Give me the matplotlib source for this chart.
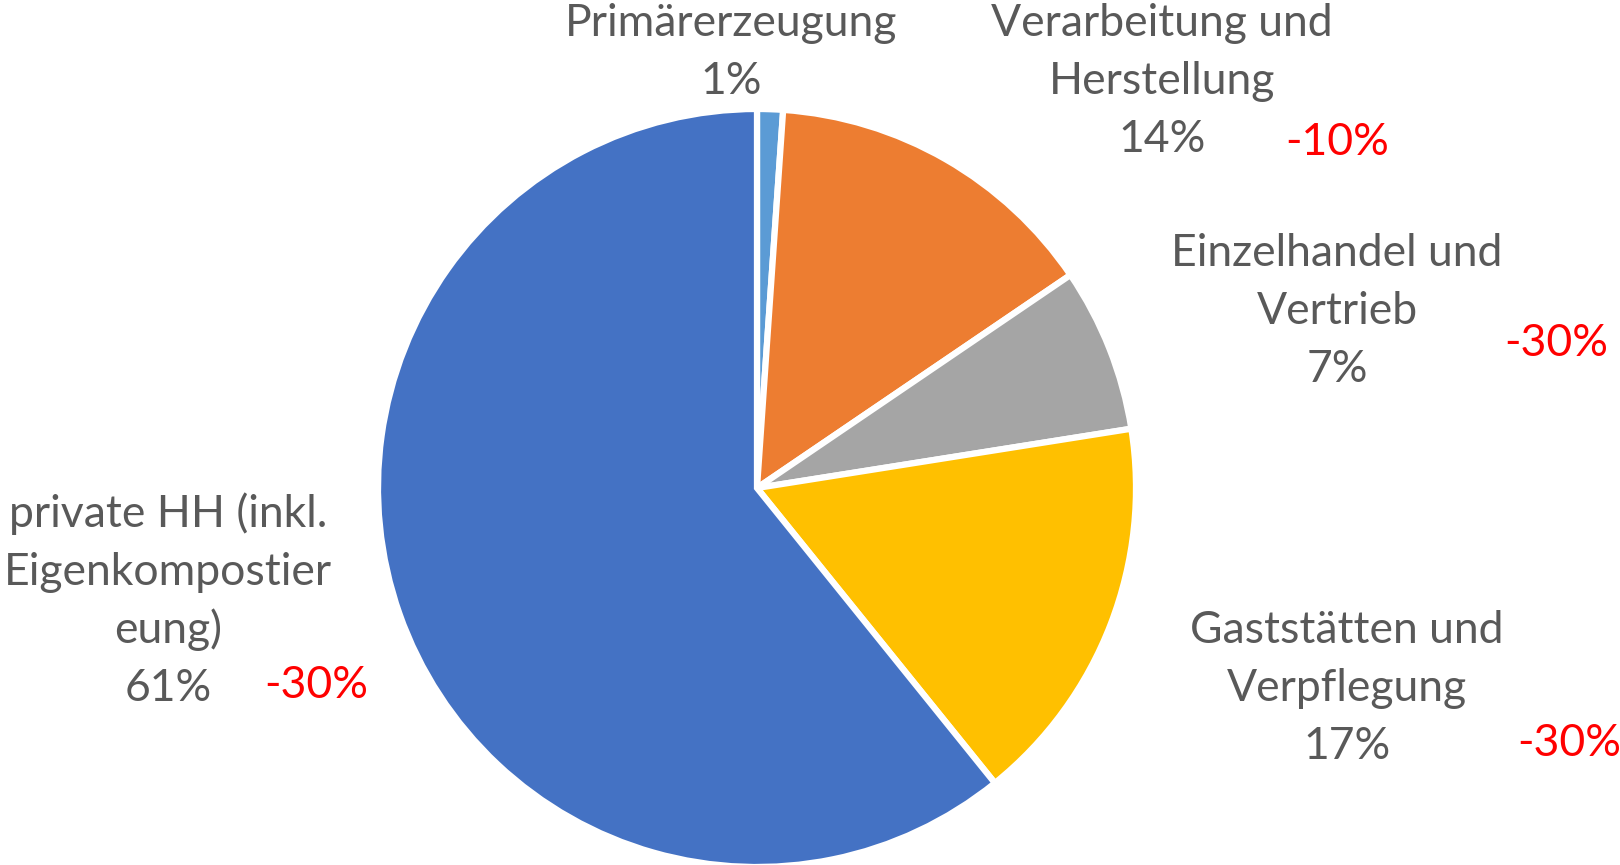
import matplotlib
matplotlib.use("Agg")
import matplotlib.pyplot as plt

# data (shares in %)
categories = ["Primärerzeugung",
              "Verarbeitung und\nHerstellung",
              "Einzelhandel und\nVertrieb",
              "Gaststätten und\nVerpflegung",
              "private HH (inkl.\nEigenkompostier\neung)"]
shares = [1.1, 14.4, 7.0, 16.7, 60.8]
targets = ["", "-10%", "-30%", "-30%", "-30%"]
colors = ["#5B9BD5", "#ED7D31", "#A5A5A5", "#FFC000", "#4472C4"]

W, H = 1620, 865
plt.rcParams['font.family'] = ['Lato', 'DejaVu Sans']
fig = plt.figure(figsize=(W / 100, H / 100), dpi=100)

cx, cy, r = 757, 488, 379
ax = fig.add_axes([(cx - r) / W, (H - cy - r) / H, 2 * r / W, 2 * r / H])
ax.pie(shares, colors=colors, startangle=90, counterclock=False,
       wedgeprops=dict(edgecolor='white', linewidth=4.5))
ax.set_xlim(-1, 1)
ax.set_ylim(-1, 1)
ax.axis('off')

fs = 32
dy = 58
grey = "#595959"

def put(x, y0, text, color):
    for i, line in enumerate(text.split("\n")):
        fig.text(x / W, 1 - (y0 + i * dy) / H, line, ha='center', va='baseline',
                 fontsize=fs, color=color)

# label block positions (px): centre x, baseline of first line
label_pos = [(731, 36), (1162, 36), (1337, 266), (1347, 643), (168, 527)]
target_pos = [None, (1337, 155), (1556, 356), (1569, 756), (316, 698)]

total = sum(shares)
for cat, v, t, lp, tp in zip(categories, shares, targets, label_pos, target_pos):
    put(lp[0], lp[1], cat + "\n%d%%" % round(100 * v / total), grey)
    if t:
        put(tp[0], tp[1], t, "#FF0000")

fig.savefig("out.png", dpi=100)
